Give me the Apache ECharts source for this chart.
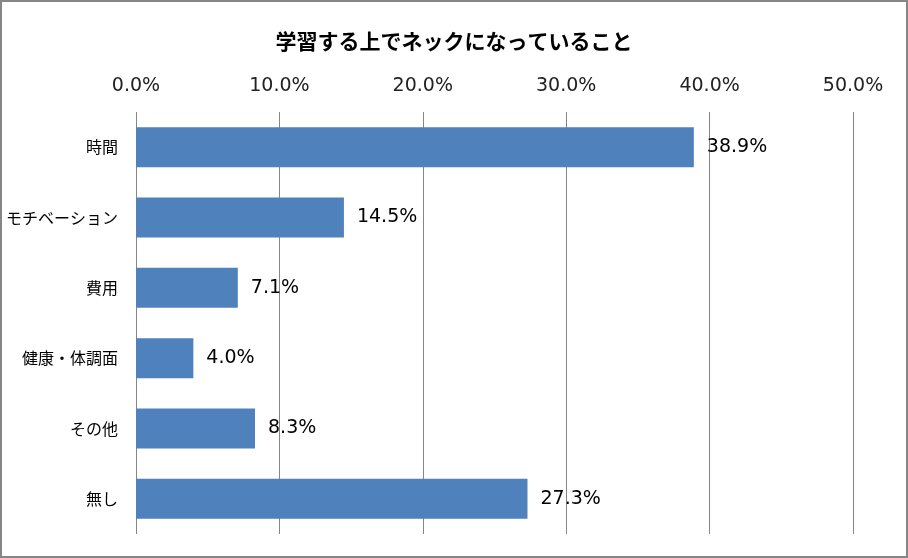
<!DOCTYPE html>
<html>
<head>
<meta charset="utf-8">
<script src="https://cdn.jsdelivr.net/npm/echarts@6/dist/echarts.min.js"></script>
<style>
html,body{margin:0;padding:0;background:#fff;}
#chart{width:908px;height:558px;}
</style>
</head>
<body>
<div id="chart"></div>
<script>
var titleText = '学習する上でネックになっていること';
var categories = ['時間', 'モチベーション', '費用', '健康・体調面', 'その他', '無し'];
var values = [38.9, 14.5, 7.1, 4.0, 8.3, 27.3];
var tickMin = 0, tickMax = 50, tickStep = 10;

var chart = echarts.init(document.getElementById('chart'));
chart.setOption({
  backgroundColor: '#fff',
  animation: false,
  graphic: [{
    type: 'rect',
    shape: {x: 1, y: 1, width: 906, height: 556},
    style: {fill: 'none', stroke: '#868686', lineWidth: 2},
    silent: true
  }],
  title: {
    text: titleText,
    left: 'center',
    top: 26,
    textStyle: {fontFamily: 'Noto Sans CJK JP', fontWeight: 'bold', fontSize: 21, color: '#000'}
  },
  grid: {left: 136, right: 55, top: 112, bottom: 24, containLabel: false},
  xAxis: {
    type: 'value',
    position: 'top',
    min: tickMin, max: tickMax, interval: tickStep,
    axisLine: {show: false},
    axisTick: {show: false},
    axisLabel: {
      formatter: function(v){ return v.toFixed(1) + '%'; },
      fontFamily: 'DejaVu Sans', fontSize: 19, color: '#222', margin: 16
    },
    splitLine: {show: true, lineStyle: {color: '#868686', width: 1}}
  },
  yAxis: {
    type: 'category',
    data: categories,
    inverse: true,
    axisLine: {show: false},
    axisTick: {show: false},
    axisLabel: {fontFamily: 'Noto Sans CJK JP', fontSize: 16, color: '#000', margin: 18}
  },
  series: [{
    type: 'bar',
    data: values,
    barWidth: 40,
    itemStyle: {color: '#4F81BD'},
    label: {
      show: true,
      position: 'right',
      distance: 13,
      formatter: function(p){ return p.value.toFixed(1) + '%'; },
      fontFamily: 'DejaVu Sans', fontSize: 19, color: '#000'
    }
  }]
});
</script>
</body>
</html>
